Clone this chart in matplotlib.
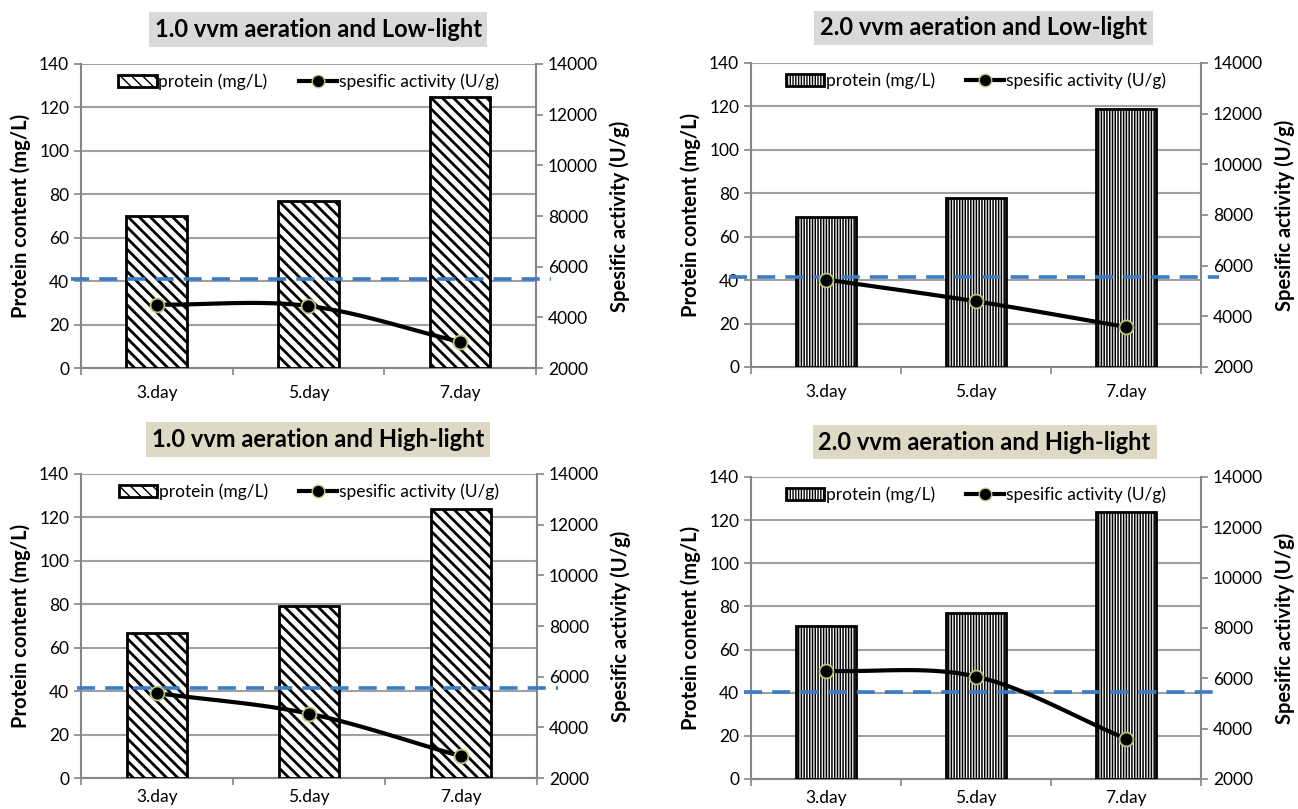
import numpy as np
import matplotlib
matplotlib.use("Agg")
import matplotlib.pyplot as plt
from matplotlib.lines import Line2D
from matplotlib.patches import Patch

plt.rcParams['font.family'] = ['Lato', 'DejaVu Sans']

days = ['3.day', '5.day', '7.day']

titles = ['1.0 vvm aeration and Low-light', '2.0 vvm aeration and Low-light',
          '1.0 vvm aeration and High-light', '2.0 vvm aeration and High-light']

protein_1_low = [70, 77, 125]
protein_2_low = [69, 78, 119]
protein_1_high = [67, 79, 124]
protein_2_high = [71, 77, 124]

activity_1_low = [4500, 4450, 3030]
activity_2_low = [5450, 4590, 3580]
activity_1_high = [5350, 4540, 2860]
activity_2_high = [6300, 6070, 3600]

reference_activity = [5520, 5540, 5540, 5470]

proteins = [protein_1_low, protein_2_low, protein_1_high, protein_2_high]
activities = [activity_1_low, activity_2_low, activity_1_high, activity_2_high]

# axes boxes [left, bottom, width, height] in figure fraction
boxes = [[0.0624, 0.5451, 0.3505, 0.3758],
         [0.5786, 0.5464, 0.3467, 0.3758],
         [0.0624, 0.0383, 0.3513, 0.3758],
         [0.5786, 0.0371, 0.3467, 0.3733]]
title_pos = [(0.245, 0.9635), (0.758, 0.9654), (0.245, 0.4567), (0.7585, 0.4536)]
title_bg = ['#d9d9d9', '#d9d9d9', '#ddd9c4', '#ddd9c4']
hatches = ['\\\\\\', '||||||', '\\\\\\', '||||||']
hatch_lw = [2.0, 1.1, 2.0, 1.1]
dash_span = [(-0.022, 1.033), (-0.049, 1.04), (-0.009, 1.046), (-0.016, 1.044)]
xlabel_pad = [12, 12, 8, 8]

GRID = '#a0a0a0'
SPINE = '#868686'


def smooth(x, y, n=30):
    # Excel-like smoothed line (Catmull-Rom through the points)
    x = np.asarray(x, float)
    y = np.asarray(y, float)
    px = np.concatenate([[2 * x[0] - x[1]], x, [2 * x[-1] - x[-2]]])
    py = np.concatenate([[2 * y[0] - y[1]], y, [2 * y[-1] - y[-2]]])
    xs, ys = [], []
    t = np.linspace(0, 1, n)
    h00 = 2 * t**3 - 3 * t**2 + 1
    h10 = t**3 - 2 * t**2 + t
    h01 = -2 * t**3 + 3 * t**2
    h11 = t**3 - t**2
    for i in range(1, len(px) - 2):
        for p, out in ((px, xs), (py, ys)):
            m1 = (p[i + 1] - p[i - 1]) / 2
            m2 = (p[i + 2] - p[i]) / 2
            out.extend(h00 * p[i] + h10 * m1 + h01 * p[i + 1] + h11 * m2)
    return np.array(xs), np.array(ys)


fig = plt.figure(figsize=(12.98, 8.09), dpi=100)

for k in range(4):
    ax = fig.add_axes(boxes[k])
    x = np.arange(len(days))
    with plt.rc_context({'hatch.linewidth': hatch_lw[k]}):
        bars = ax.bar(x, proteins[k], width=0.40, color='white', edgecolor='black',
                      linewidth=2, hatch=hatches[k], zorder=3)
    for b in bars:
        if hasattr(b, 'set_hatch_linewidth'):
            b.set_hatch_linewidth(hatch_lw[k])
    ax.set_xlim(-0.5, 2.5)
    ax.set_ylim(0, 140)
    ax.set_yticks(range(0, 141, 20))
    ax.set_xticks(x)
    ax.set_xticklabels(days, fontsize=12.5)
    ax.set_xticks([-0.5, 0.5, 1.5, 2.5], minor=True)
    ax.tick_params(axis='x', which='major', length=0, pad=xlabel_pad[k])
    ax.tick_params(axis='x', which='minor', length=5, color=SPINE, width=1.2)
    ax.tick_params(axis='y', length=5, color=SPINE, width=1.2, labelsize=12.5)
    ax.grid(axis='y', color=GRID, linewidth=1.5, zorder=0)
    ax.set_axisbelow(True)
    for s in ['top', 'right']:
        ax.spines[s].set_visible(False)
    for s in ['left', 'bottom']:
        ax.spines[s].set_color(SPINE)
        ax.spines[s].set_linewidth(1.5)
    ax.set_ylabel('Protein content (mg/L)', fontsize=14.5, fontweight='bold', labelpad=6)

    ax2 = ax.twinx()
    ax2.set_ylim(2000, 14000)
    ax2.set_yticks(range(2000, 14001, 2000))
    ax2.tick_params(axis='y', length=5, color=SPINE, width=1.2, labelsize=12.5)
    for s in ['top', 'left', 'bottom']:
        ax2.spines[s].set_visible(False)
    ax2.spines['right'].set_color(SPINE)
    ax2.spines['right'].set_linewidth(1.5)
    ax2.set_ylabel('Spesific activity (U/g)', fontsize=14.5, fontweight='bold', labelpad=8)

    ax2.axhline(reference_activity[k], xmin=dash_span[k][0], xmax=dash_span[k][1],
                color='#3c7cc4', linewidth=2.6, linestyle=(0, (5, 2.8)), clip_on=False, zorder=4)
    sx, sy = smooth(x, activities[k])
    ax2.plot(sx, sy, color='black', linewidth=3, zorder=5)
    ax2.plot(x, activities[k], linestyle='none', marker='o', markersize=10,
             markerfacecolor='black', markeredgecolor='#b5c97a', markeredgewidth=1.3, zorder=6)

    with plt.rc_context({'hatch.linewidth': hatch_lw[k]}):
        handles = [Patch(facecolor='white', edgecolor='black', linewidth=2, hatch=hatches[k]),
                   Line2D([], [], color='black', linewidth=3, marker='o', markersize=9,
                          markerfacecolor='black', markeredgecolor='#b5c97a')]
    ax2.legend(handles, ['protein (mg/L)', 'spesific activity (U/g)'], loc='upper center',
               bbox_to_anchor=(0.5, 1.02), ncol=2, frameon=False, fontsize=12.5,
               handlelength=2.2, handletextpad=0.1, columnspacing=1.8)

    fig.text(title_pos[k][0], title_pos[k][1], titles[k], ha='center', va='center',
             fontsize=17, fontweight='bold',
             bbox=dict(boxstyle='square,pad=0.25', facecolor=title_bg[k], edgecolor='none'))

fig.savefig('out.png', dpi=100)
